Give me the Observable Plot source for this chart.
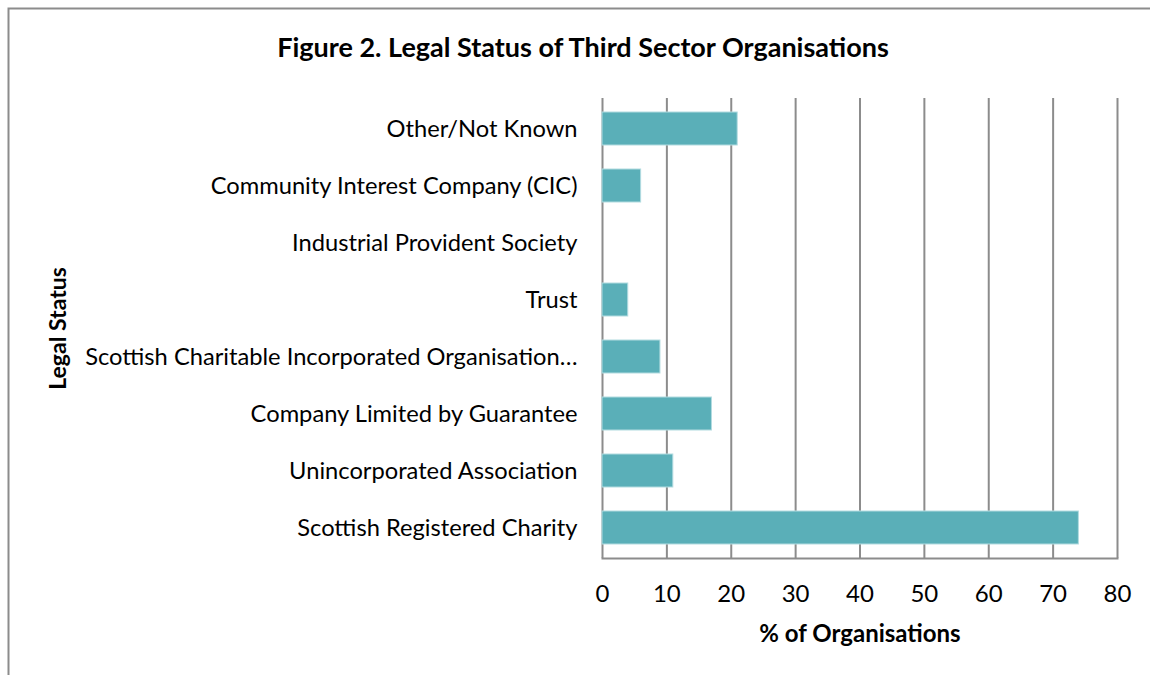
<!DOCTYPE html>
<html>
<head>
<meta charset="utf-8">
<script src="https://cdn.jsdelivr.net/npm/d3@7"></script>
<script src="https://cdn.jsdelivr.net/npm/@observablehq/plot@0.6"></script>
<style>
  html, body { margin: 0; padding: 0; background: #fff; }
  #chart { position: relative; width: 1150px; height: 675px; overflow: hidden; }
  #chart svg { font-family: Lato, "Open Sans", sans-serif; }
</style>
</head>
<body>
<div id="chart"></div>
<script>
const title = "Figure 2. Legal Status of Third Sector Organisations";
const xLabel = "% of Organisations";
const yLabel = "Legal Status";
const categories = [
  "Other/Not Known",
  "Community Interest Company (CIC)",
  "Industrial Provident Society",
  "Trust",
  "Scottish Charitable Incorporated Organisation (SCIO)",
  "Company Limited by Guarantee",
  "Unincorporated Association",
  "Scottish Registered Charity"
];
const values = [21, 6, 0, 4, 9, 17, 11, 74];
const xTicks = [0, 10, 20, 30, 40, 50, 60, 70, 80];

const data = categories.map((c, i) => ({category: c, value: values[i]}));

const truncate = s => s.length > 45 ? s.slice(0, 45) + "…" : s;

const grid = "#8c8c8c";
const plot = Plot.plot({
  width: 1150,
  height: 675,
  marginLeft: 602,
  marginRight: 33,
  marginTop: 98,
  marginBottom: 117,
  style: {fontFamily: "Lato, 'Open Sans', sans-serif", color: "#000", background: "transparent"},
  x: {domain: [0, 80], label: null},
  y: {domain: categories, paddingInner: 0.42, paddingOuter: 0.21, label: null},
  marks: [
    Plot.ruleX(xTicks, {stroke: grid, strokeWidth: 2, strokeOpacity: 1}),
    Plot.frame({anchor: "bottom", stroke: grid, strokeWidth: 2}),
    Plot.barX(data, {x: "value", y: "category", fill: "#5aafb8", stroke: "#b2dbe0", strokeWidth: 1}),
    Plot.axisX({ticks: xTicks, tickSize: 0, tickPadding: 26, fontSize: 24, label: null}),
    Plot.axisY({tickSize: 0, tickPadding: 25, fontSize: 23.7, label: null, tickFormat: truncate, lineWidth: 100}),
    Plot.text([xLabel], {frameAnchor: "bottom", dy: 76, lineAnchor: "middle", textAnchor: "middle", fontWeight: "bold", fontSize: 24}),
    Plot.text([yLabel], {frameAnchor: "left", dx: -544, rotate: -90, lineAnchor: "middle", textAnchor: "middle", fontWeight: "bold", fontSize: 23}),
    Plot.text([title], {frameAnchor: "top", dy: -50, dx: -277, lineAnchor: "middle", textAnchor: "middle", fontWeight: "bold", fontSize: 27})
  ]
});
document.getElementById("chart").appendChild(plot);

// outer chart frame (partially visible at left and top, as in the reference)
d3.select(plot).append("path")
  .attr("d", "M8.5,675 V8.5 H1150")
  .attr("fill", "none")
  .attr("stroke", "#8c8c8c")
  .attr("stroke-width", 2);
</script>
</body>
</html>
